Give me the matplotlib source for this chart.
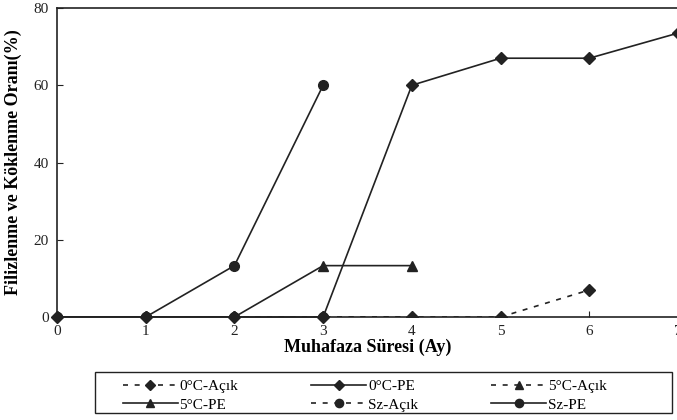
import numpy as np
import matplotlib
matplotlib.use('Agg')
import matplotlib.pyplot as plt
from matplotlib.patches import Rectangle

plt.rcParams['font.family'] = ['Liberation Serif', 'DejaVu Serif']

# Data (storage month vs sprouting/rooting %)
months = [0, 1, 2, 3, 4, 5, 6, 7]
c0_acik = [0, 0, 0, 0, 0, 0, 7]
c0_pe = [0, 0, 0, 0, 60, 67, 67, 73.5]
c5_acik = [0, 0, 0, 0, 0]
c5_pe = [0, 0, 0, 13.3, 13.3]
sz_acik = [0, 0, 0, 0]
sz_pe = [0, 0, 13.3, 60]

col = '#222222'
W, H = 677, 420

fig = plt.figure(figsize=(6.77, 4.2), dpi=100)
ax = fig.add_axes([57/W, 103/H, 621/W, 309/H])

dash = (0, (3, 4))
h1, = ax.plot(months[:len(c0_acik)], c0_acik, ls=dash, marker='D', ms=6, color=col, lw=1.2, label='0°C-Açık')
h3, = ax.plot(months[:len(c5_acik)], c5_acik, ls=dash, marker='^', ms=7, color=col, lw=1.2, label='5°C-Açık')
h5, = ax.plot(months[:len(sz_acik)], sz_acik, ls=dash, marker='o', ms=7, color=col, lw=1.2, label='Sz-Açık')
h2, = ax.plot(months[:len(c0_pe)], c0_pe, ls='-', marker='D', ms=6, color=col, lw=1.2, label='0°C-PE', clip_on=False)
h4, = ax.plot(months[:len(c5_pe)], c5_pe, ls='-', marker='^', ms=7, color=col, lw=1.2, label='5°C-PE')
h6, = ax.plot(months[:len(sz_pe)], sz_pe, ls='-', marker='o', ms=7, color=col, lw=1.2, label='Sz-PE')

ax.set_xlim(0, 7)
ax.set_ylim(0, 80)
ax.set_xticks(months)
ax.set_yticks([0, 20, 40, 60, 80])
ax.tick_params(direction='in', labelsize=11, colors=col, length=4, pad=6)
for s in ax.spines.values():
    s.set_color(col)
    s.set_linewidth(1.2)

ax.set_xlabel('Muhafaza Süresi (Ay)', fontsize=13, fontweight='bold', labelpad=0)
ax.set_ylabel('Filizlenme ve Köklenme Oranı(%)', fontsize=13, fontweight='bold', labelpad=8)

# legend box drawn separately (wide frame with lots of right padding)
fig.patches.append(Rectangle((95/W, 1 - 413/H), 577/W, 41/H, transform=fig.transFigure,
                             fill=False, edgecolor=col, lw=1.0))

# legend filled column-wise, so order to get rows like the original
handles = [h1, h4, h2, h5, h3, h6]
leg = fig.legend(handles, [h.get_label() for h in handles], ncol=3,
                 loc='upper left', bbox_to_anchor=(115/W, 1 - 372/H),
                 frameon=False, fontsize=11, borderpad=0, markerscale=0.85,
                 handlelength=3.6, columnspacing=4.8,
                 labelspacing=0.3, handletextpad=0.1)

fig.savefig('out.png', dpi=100)
